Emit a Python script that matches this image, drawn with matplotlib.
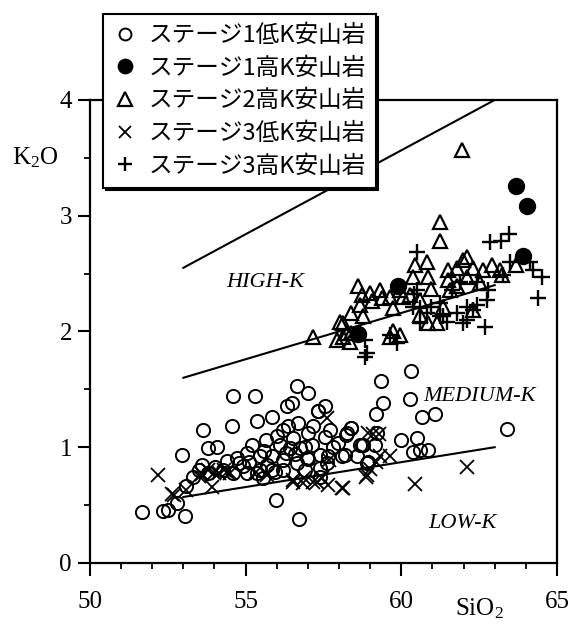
import matplotlib
matplotlib.use("Agg")
import matplotlib.pyplot as plt
from matplotlib.ticker import MultipleLocator

plt.rcParams["font.family"] = ["Liberation Serif", "DejaVu Serif"]
plt.rcParams["mathtext.fontset"] = "custom"
plt.rcParams["mathtext.rm"] = "Liberation Serif"
plt.rcParams["mathtext.it"] = "Liberation Serif:italic"

# ---- data (SiO2 wt%, K2O wt%) ----
s1_low_x = [51.68, 52.33, 52.52, 53.05, 52.81, 53.10, 52.97, 53.64, 54.60, 55.30,
            54.55, 55.37, 56.66, 57.01, 56.32, 56.48, 55.84, 57.55, 57.34, 59.35,
            59.42, 59.18, 55.96, 56.71, 53.80, 54.09, 53.59, 54.02, 54.71, 55.05,
            54.60, 55.03, 55.46, 55.46, 55.67, 55.84, 55.94, 56.10, 56.19, 56.37,
            56.42, 56.53, 56.69, 56.75, 56.91, 57.01, 57.12, 57.17, 57.39, 57.39,
            57.55, 57.66, 57.71, 57.98, 58.19, 58.25, 58.37, 58.67, 58.78, 58.89,
            59.16, 59.21, 56.21, 56.21, 55.84, 56.64, 56.96, 55.57, 55.35, 54.28,
            53.32, 53.80, 54.93, 57.39, 58.08, 58.57, 60.28, 60.66, 61.08, 63.39,
            59.98, 60.49, 60.39, 60.86, 60.60, 58.92, 58.39, 58.22, 58.75, 57.33,
            55.10, 56.00, 55.70, 56.90, 57.80, 54.40, 53.50, 60.30, 54.80, 55.60,
            56.30, 57.00, 57.60, 55.20, 56.60]
s1_low_y = [0.44, 0.45, 0.46, 0.41, 0.52, 0.665, 0.93, 1.15, 1.445, 1.445,
            1.18, 1.23, 1.53, 1.47, 1.36, 1.385, 1.26, 1.36, 1.31, 1.57,
            1.385, 1.285, 0.545, 0.38, 0.99, 1.005, 0.85, 0.83, 0.905, 0.95,
            0.78, 0.775, 0.925, 0.80, 1.06, 0.92, 0.79, 1.02, 1.15, 1.18,
            0.99, 1.08, 1.21, 0.99, 0.80, 1.12, 1.02, 1.18, 0.93, 0.82,
            1.09, 0.92, 1.15, 1.035, 0.93, 1.12, 1.17, 1.02, 1.02, 0.86,
            1.02, 1.12, 0.89, 0.80, 0.80, 0.86, 0.905, 0.73, 0.775, 0.80,
            0.745, 0.775, 0.84, 0.745, 0.92, 0.92, 1.42, 1.26, 1.285, 1.16,
            1.06, 1.08, 0.96, 0.975, 0.98, 0.875, 1.165, 1.105, 1.02, 1.31,
            0.87, 1.10, 0.85, 1.00, 1.00, 0.88, 0.80, 1.66, 0.86, 0.97,
            0.95, 0.90, 0.86, 1.02, 0.94]

s1_high_x = [63.70, 64.03, 63.90, 59.88, 58.62]
s1_high_y = [3.26, 3.08, 2.65, 2.39, 1.98]

s2_high_x = [61.94, 61.24, 61.24, 57.15, 57.92, 58.35, 58.14, 58.40, 58.73, 59.05,
             59.37, 58.78, 59.64, 59.64, 59.96, 59.74, 59.96, 60.28, 60.44, 60.81,
             60.39, 60.86, 60.60, 60.97, 60.86, 60.60, 61.51, 61.51, 61.56, 61.99,
             62.31, 62.63, 62.90, 63.17, 63.70, 62.53, 62.10, 61.78, 62.31, 61.35,
             61.14, 58.40, 58.67, 59.32, 58.62, 59.00, 58.14, 59.74, 60.06, 63.22,
             61.78, 62.10, 58.03, 58.25]
s2_high_y = [3.57, 2.95, 2.78, 1.955, 1.93, 1.91, 2.07, 2.16, 2.315, 2.26,
             2.29, 2.13, 2.30, 1.955, 1.97, 2.20, 2.36, 2.315, 2.57, 2.60,
             2.47, 2.47, 2.27, 2.37, 2.07, 2.14, 2.53, 2.445, 2.36, 2.62,
             2.545, 2.53, 2.575, 2.53, 2.575, 2.415, 2.47, 2.39, 2.185, 2.215,
             2.07, 1.985, 2.23, 2.36, 2.39, 2.33, 1.955, 2.00, 2.30, 2.49,
             2.545, 2.645, 2.085, 1.985]

s3_low_x = [52.19, 52.62, 53.91, 58.14, 57.66, 56.85, 56.53, 57.28, 58.89, 58.94,
            57.60, 59.32, 62.10, 60.45, 58.10, 59.63, 59.30, 52.69, 53.10, 53.60,
            54.16, 54.40, 55.34, 55.69, 56.51, 56.86, 57.16, 57.45, 57.69, 58.87,
            58.98, 59.20, 59.10, 53.80, 54.00, 54.30, 54.50, 53.50]
s3_low_y = [0.76, 0.60, 0.66, 0.645, 0.675, 0.69, 0.70, 0.70, 0.76, 1.12,
            1.25, 0.92, 0.83, 0.68, 0.65, 0.925, 1.11, 0.59, 0.63, 0.77,
            0.775, 0.79, 0.79, 0.76, 0.72, 0.73, 0.70, 0.73, 0.89, 0.745,
            0.81, 0.875, 1.11, 0.80, 0.78, 0.80, 0.78, 0.75]

s3_high_x = [60.49, 62.85, 63.20, 63.45, 64.51, 64.40, 64.24, 64.13, 63.49, 63.28,
             62.80, 62.69, 62.31, 62.10, 61.78, 61.99, 61.89, 61.24, 61.24, 60.97,
             61.46, 60.81, 60.60, 60.60, 60.39, 60.49, 59.85, 59.64, 58.89, 58.83,
             62.42, 62.74, 61.35, 62.10, 62.42, 61.62, 60.40, 58.83]
s3_high_y = [2.69, 2.77, 2.78, 2.84, 2.47, 2.29, 2.53, 2.60, 2.60, 2.49,
             2.36, 2.04, 2.185, 2.215, 2.16, 2.07, 2.43, 2.245, 2.13, 2.215,
             2.085, 2.16, 2.07, 2.20, 2.215, 2.36, 1.90, 1.97, 1.81, 1.93,
             2.43, 2.27, 2.13, 2.10, 2.23, 2.36, 2.32, 1.78]

# K-series boundary lines
bound_x = [53, 63]
low_med_y = [0.57, 1.0]
med_high_y = [1.6, 2.4]
high_sho_y = [2.55, 4.0]

labels = ["ステージ1低K安山岩", "ステージ1高K安山岩", "ステージ2高K安山岩",
          "ステージ3低K安山岩", "ステージ3高K安山岩"]

fig = plt.figure(figsize=(5.73, 6.24), dpi=100)
ax = fig.add_axes([0.157, 0.0978, 0.815, 0.742])

for yy in (low_med_y, med_high_y, high_sho_y):
    ax.plot(bound_x, yy, color="black", lw=1.5, zorder=2)

h1, = ax.plot(s1_low_x, s1_low_y, ls="none", marker="o", ms=9.5, mfc="none",
              mec="black", mew=1.4, label=labels[0], zorder=3)
h2, = ax.plot(s1_high_x, s1_high_y, ls="none", marker="o", ms=11.5, mfc="black",
              mec="black", label=labels[1], zorder=3)
h3, = ax.plot(s2_high_x, s2_high_y, ls="none", marker="^", ms=10.5, mfc="none",
              mec="black", mew=1.6, label=labels[2], zorder=3)
h4, = ax.plot(s3_low_x, s3_low_y, ls="none", marker="x", ms=9.5, mec="black",
              mew=1.3, label=labels[3], zorder=3)
h5, = ax.plot(s3_high_x, s3_high_y, ls="none", marker="+", ms=11, mec="black",
              mew=1.7, label=labels[4], zorder=3)

ax.text(55.62, 2.42, "HIGH-K", style="italic", fontsize=16, ha="center", va="center")
ax.text(62.51, 1.44, "MEDIUM-K", style="italic", fontsize=16, ha="center", va="center")
ax.text(61.98, 0.34, "LOW-K", style="italic", fontsize=16, ha="center", va="center")

ax.set_xlim(50, 65)
ax.set_ylim(0, 4)
ax.xaxis.set_major_locator(MultipleLocator(5))
ax.xaxis.set_minor_locator(MultipleLocator(1))
ax.yaxis.set_major_locator(MultipleLocator(1))
ax.yaxis.set_minor_locator(MultipleLocator(0.5))
ax.tick_params(which="major", length=9, width=1.5, labelsize=18)
ax.tick_params(which="minor", length=4, width=1.3)
ax.tick_params(axis="x", which="major", pad=11)
ax.tick_params(axis="y", which="major", pad=4)
for sp in ax.spines.values():
    sp.set_linewidth(1.6)

ax.set_xlabel(r"$\mathrm{SiO_2}$", fontsize=18)
ax.xaxis.set_label_coords(0.833, -0.072)
ax.set_ylabel(r"$\mathrm{K_2O}$", fontsize=18, rotation=0, ha="center", va="center")
ax.yaxis.set_label_coords(-0.118, 0.875)

leg = ax.legend(handles=[h1, h2, h3, h4, h5], loc="upper left",
                bbox_to_anchor=(103 / 573, 1 - 14 / 624), bbox_transform=fig.transFigure,
                borderaxespad=0, fancybox=False, framealpha=1, edgecolor="black",
                shadow={"color": "black", "alpha": 1}, markerscale=0.9,
                handlelength=1.0, handletextpad=0.5, labelspacing=0.41, borderpad=0.42,
                prop={"family": ["Noto Sans CJK JP", "DejaVu Sans"], "size": 17})
leg.get_frame().set_linewidth(1.5)
leg.set_zorder(10)

fig.savefig("out.png", dpi=100, facecolor="white")
